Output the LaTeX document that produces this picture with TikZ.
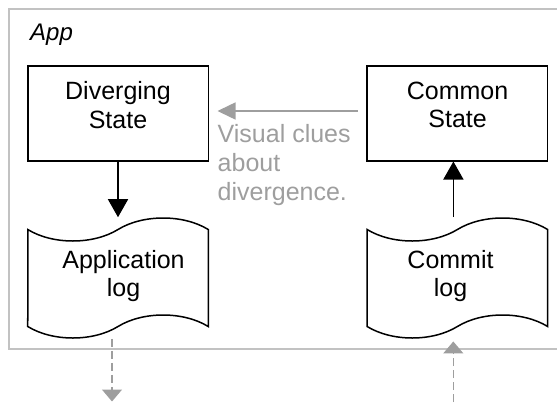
\documentclass[tikz,border=0pt]{standalone}
\usepackage{fontspec}
\setmainfont{Liberation Sans}
\usepackage{tikz}
\usetikzlibrary{shapes.symbols,arrows.meta}

\definecolor{framegray}{RGB}{194,194,194}
\definecolor{cluegray}{RGB}{158,158,158}

\tikzset{
  statebox/.style={draw,line width=1.5pt,minimum width=180.5pt,minimum height=94.7pt,inner sep=0pt},
  logtape/.style={tape,draw,line width=1.5pt,minimum width=180.5pt,minimum height=120pt,
    tape bend height=23pt,inner sep=0pt},
  lbl/.style={align=center,inner sep=0pt,font=\fontsize{25}{28.5}\selectfont},
  flow/.style={line width=1.5pt,-{Triangle[length=18pt,width=20pt]}},
  clue/.style={cluegray,line width=1.5pt,-{Triangle[length=18pt,width=17pt]}},
  remote/.style={cluegray,line width=1.3pt,dash pattern=on 8pt off 4pt,-{Triangle[length=12pt,width=20pt]}},
}

\begin{document}
\begin{tikzpicture}[x=1pt,y=1pt]
\clip (0,0) rectangle (557,-402);
% the app frame runs on past the right edge
\draw[framegray,line width=1.3pt] (9,-9) rectangle (600,-349);
\node[anchor=base west,inner sep=0pt,font=\fontsize{24}{28}\selectfont\itshape] (app) at (30,-40.7) {App};

% states
\node[statebox] (div) at (118,-113.4) {};
\node[lbl] (divtext) at (118,-105) {Diverging\\State};
\node[statebox] (common) at (457.4,-113.4) {};
\node[lbl] (commontext) at (457.6,-105) {Common\\State};

% logs
\node[logtape] (applog) at (118,-278) {};
\node[lbl] (applogtext) at (123.5,-276.2) {Application\\log};
\node[logtape] (commitlog) at (457.4,-278) {};
\node[lbl] (commitlogtext) at (450.5,-276.2) {Commit\\log};

\draw[clue,shorten <=8.5pt,shorten >=8.5pt] ([yshift=2.4pt]common.west) -- ([yshift=2.4pt]div.east);
\node[lbl,align=left,anchor=north west,text=cluegray,font=\fontsize{25}{29}\selectfont] (clues)
  at (217.5,-124.6) {Visual clues\\about\\divergence.};

% north/south of a tape sit mid-bend, so stop at the crest
\draw[flow,shorten >=11.5pt] (div.south) -- (div.south |- applog.north);
\draw[flow,shorten <=11.5pt] ([xshift=-4pt]commitlog.north) -- ([xshift=-4pt]common.south);

% outside the app
\coordinate (logout) at (112,-401.5);
\coordinate (commitin) at (453.3,-402);
\draw[remote,shorten <=11.5pt] (logout |- applog.south) -- (logout);
\draw[remote,shorten >=14.2pt] (commitin) -- (commitin |- commitlog.south);
\end{tikzpicture}
\end{document}
